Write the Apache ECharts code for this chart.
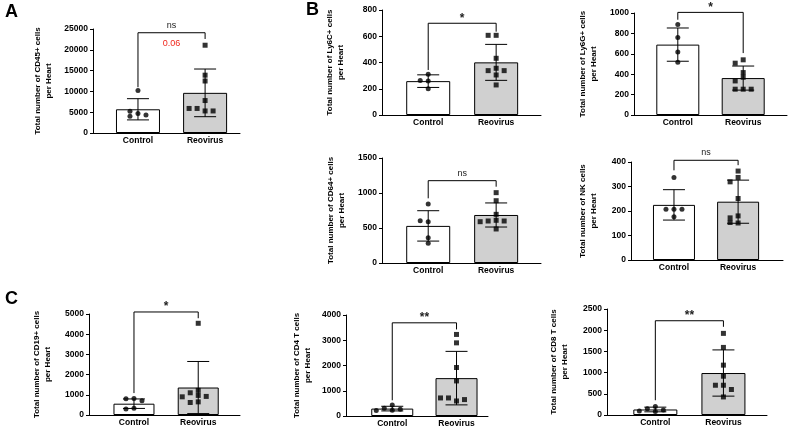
<!DOCTYPE html>
<html>
<head>
<meta charset="utf-8">
<script src="https://cdn.jsdelivr.net/npm/echarts@6/dist/echarts.min.js"></script>
<style>
html, body { margin: 0; padding: 0; background: #fff; }
#main { width: 788px; height: 429px; }
</style>
</head>
<body>
<div id="main"></div>
<script>
const categories = ['Control', 'Reovirus'];

// A - CD45+
const cd45Control = [10200, 4700, 4000, 4300, 5200];
const cd45Reovirus = [21100, 13900, 12500, 7800, 5300, 5900, 5300, 5900];
const cd45Mean = [5700, 9650];
const cd45Sd = [2550, 5730];
const cd45Bracket = [24100, 11000, 22600];

// B - Ly6C+
const ly6cControl = [310, 260, 262, 200];
const ly6cReovirus = [607, 607, 432, 356, 338, 338, 305, 229];
const ly6cMean = [258, 401];
const ly6cSd = [48, 137];
const ly6cBracket = [699, 343, 635];

// B - Ly6G+
const ly6gControl = [888, 760, 617, 518];
const ly6gReovirus = [541, 508, 416, 370, 334, 253, 253, 253];
const ly6gMean = [690, 362];
const ly6gSd = [163, 118];
const ly6gBracket = [1006, 934, 607];

// B - CD64+
const cd64Control = [843, 590, 604, 361, 281];
const cd64Reovirus = [1005, 890, 695, 610, 600, 600, 590, 486];
const cd64Mean = [530, 686];
const cd64Sd = [217, 172];
const cd64Bracket = [1176, 924, 1090];

// B - NK
const nkControl = [337, 207, 207, 207, 177];
const nkReovirus = [363, 337, 319, 251, 180, 172, 151, 153];
const nkMean = [225, 238];
const nkSd = [62, 88];
const nkBracket = [407, 366, 387];

// C - CD19+
const cd19Control = [820, 800, 700, 340, 300];
const cd19Reovirus = [4540, 1220, 1100, 970, 920, 900, 650, 620];
const cd19Mean = [560, 1360];
const cd19Sd = [235, 1290];
const cd19Bracket = [5100, 1085, 4790];

// C - CD4 T
const cd4Control = [440, 310, 270, 230, 215];
const cd4Reovirus = [3230, 2897, 1921, 1389, 595, 715, 650, 715];
const cd4Mean = [293, 1500];
const cd4Sd = [92, 1060];
const cd4Bracket = [3690, 623, 3428];

// C - CD8 T
const cd8Control = [200, 150, 120, 95, 85];
const cd8Reovirus = [1925, 1594, 1176, 915, 702, 702, 601, 426];
const cd8Mean = [130, 990];
const cd8Sd = [55, 545];
const cd8Bracket = [2223, 348, 2080];

const FONT = '"Liberation Sans", Arial, sans-serif';

const panels = [
  { grid: { left: 93, top: 29, width: 147, height: 104 }, x: [-0.67, 1.52], yMax: 25000, step: 5000, gap: 39, barW: 44,
    name: 'Total number of CD45+ cells\nper Heart', ctrl: cd45Control, reo: cd45Reovirus, mean: cd45Mean, sd: cd45Sd,
    bracket: cd45Bracket, sig: 'ns', note: { text: '0.06', y: 21600 } },
  { grid: { left: 382, top: 10, width: 159, height: 105 }, x: [-0.68, 1.66], yMax: 800, step: 200, gap: 36, barW: 44,
    name: 'Total number of Ly6C+ cells\nper Heart', ctrl: ly6cControl, reo: ly6cReovirus, mean: ly6cMean, sd: ly6cSd,
    bracket: ly6cBracket, sig: '*' },
  { grid: { left: 634, top: 13, width: 153, height: 102 }, x: [-0.67, 1.67], yMax: 1000, step: 200, gap: 35, barW: 43,
    name: 'Total number of Ly6G+ cells\nper Heart', ctrl: ly6gControl, reo: ly6gReovirus, mean: ly6gMean, sd: ly6gSd,
    bracket: ly6gBracket, sig: '*' },
  { grid: { left: 382, top: 158, width: 159, height: 105 }, x: [-0.68, 1.66], yMax: 1500, step: 500, gap: 35, barW: 44,
    name: 'Total number of CD64+ cells\nper Heart', ctrl: cd64Control, reo: cd64Reovirus, mean: cd64Mean, sd: cd64Sd,
    bracket: cd64Bracket, sig: 'ns' },
  { grid: { left: 631, top: 162, width: 152, height: 98 }, x: [-0.67, 1.70], yMax: 400, step: 100, gap: 32, barW: 42,
    name: 'Total number of NK cells\nper Heart', ctrl: nkControl, reo: nkReovirus, mean: nkMean, sd: nkSd,
    bracket: nkBracket, sig: 'ns' },
  { grid: { left: 89, top: 314, width: 151, height: 101 }, x: [-0.70, 1.65], yMax: 5000, step: 1000, gap: 36, barW: 41,
    name: 'Total number of CD19+ cells\nper Heart', ctrl: cd19Control, reo: cd19Reovirus, mean: cd19Mean, sd: cd19Sd,
    bracket: cd19Bracket, sig: '*' },
  { grid: { left: 346, top: 315, width: 142, height: 101 }, x: [-0.72, 1.49], yMax: 4000, step: 1000, gap: 33, barW: 42,
    name: 'Total number of CD4 T cells\nper Heart', ctrl: cd4Control, reo: cd4Reovirus, mean: cd4Mean, sd: cd4Sd,
    bracket: cd4Bracket, sig: '**' },
  { grid: { left: 607, top: 309, width: 160, height: 106 }, x: [-0.71, 1.64], yMax: 2500, step: 500, gap: 37, barW: 44,
    name: 'Total number of CD8 T cells\nper Heart', ctrl: cd8Control, reo: cd8Reovirus, mean: cd8Mean, sd: cd8Sd,
    bracket: cd8Bracket, sig: '**' }
];

// spread points sideways so they do not sit on top of each other (like Prism)
function swarm(vals, center, p) {
  const pxPerVal = p.grid.height / p.yMax;
  const pxPerX = p.grid.width / (p.x[1] - p.x[0]);
  const step = 8, tol = 4.5;
  const placed = [], out = [];
  vals.forEach(v => {
    const py = v * pxPerVal;
    for (const k of [0, -1, 1, -2, 2, -3, 3]) {
      const px = k * step;
      if (placed.every(q => Math.hypot(q[0] - px, q[1] - py) >= tol)) {
        placed.push([px, py]);
        out.push([center + px / pxPerX, v]);
        break;
      }
    }
  });
  return out;
}

const lineStyle = { stroke: '#000', lineWidth: 1 };

function errorBar(params, api) {
  const x = api.value(0), m = api.value(1), s = api.value(2);
  const top = api.coord([x, m + s]);
  const bot = api.coord([x, Math.max(0, m - s)]);
  const cap = 11;
  return {
    type: 'group',
    children: [
      { type: 'line', shape: { x1: top[0], y1: top[1], x2: bot[0], y2: bot[1] }, style: lineStyle },
      { type: 'line', shape: { x1: top[0] - cap, y1: top[1], x2: top[0] + cap, y2: top[1] }, style: lineStyle },
      { type: 'line', shape: { x1: bot[0] - cap, y1: bot[1], x2: bot[0] + cap, y2: bot[1] }, style: lineStyle }
    ]
  };
}

function bracketRenderer(p) {
  return function (params, api) {
    const y = api.value(0), l = api.value(1), r = api.value(2);
    const a = api.coord([0, l]), b = api.coord([0, y]), c = api.coord([1, y]), d = api.coord([1, r]);
    const star = p.sig !== 'ns';
    const children = [
      { type: 'polyline', shape: { points: [a, b, c, d] }, style: { stroke: '#000', lineWidth: 1, fill: null } },
      { type: 'text', x: (b[0] + c[0]) / 2, y: b[1] - (star ? -1 : 3),
        style: { text: p.sig, textAlign: 'center', textVerticalAlign: 'bottom',
                 font: star ? 'bold 12px ' + FONT : '9px ' + FONT, fill: '#222' } }
    ];
    if (p.note) {
      const n = api.coord([0.5, p.note.y]);
      children.push({ type: 'text', x: n[0], y: n[1],
        style: { text: p.note.text, textAlign: 'center', textVerticalAlign: 'middle', font: '9px ' + FONT, fill: '#f0261b' } });
    }
    return { type: 'group', children };
  };
}

const labelFont = { color: '#000', fontWeight: 'bold', fontSize: 8.5, fontFamily: FONT };

const option = {
  animation: false,
  backgroundColor: '#fff',
  grid: panels.map(p => Object.assign({ outerBoundsMode: 'none' }, p.grid)),
  xAxis: panels.map((p, i) => ({
    type: 'value', gridIndex: i, min: p.x[0], max: p.x[1],
    splitLine: { show: false },
    axisLine: { show: true, onZero: false, lineStyle: { color: '#000', width: 1 } },
    axisTick: { show: false },
    axisLabel: Object.assign({ customValues: [0, 1], formatter: v => categories[Math.round(v)], margin: 3 }, labelFont)
  })),
  yAxis: panels.map((p, i) => ({
    type: 'value', gridIndex: i, min: 0, max: p.yMax, interval: p.step,
    splitLine: { show: false },
    axisLine: { show: true, onZero: false, lineStyle: { color: '#000', width: 1 } },
    axisTick: { show: true, length: 3, lineStyle: { color: '#000' } },
    axisLabel: Object.assign({ formatter: v => String(v), margin: 5 }, labelFont),
    name: p.name, nameLocation: 'middle', nameRotate: 90, nameGap: p.gap,
    nameTextStyle: { color: '#000', fontWeight: 'bold', fontSize: 8, lineHeight: 11, fontFamily: FONT }
  })),
  graphic: [
    { type: 'text', left: 5, top: 3, style: { text: 'A', font: 'bold 18px ' + FONT, fill: '#000' } },
    { type: 'text', left: 306, top: 1, style: { text: 'B', font: 'bold 18px ' + FONT, fill: '#000' } },
    { type: 'text', left: 5, top: 290, style: { text: 'C', font: 'bold 18px ' + FONT, fill: '#000' } }
  ],
  series: panels.flatMap((p, i) => [
    {
      type: 'bar', xAxisIndex: i, yAxisIndex: i, barWidth: p.barW, z: 1,
      itemStyle: { borderColor: '#000', borderWidth: 1 },
      data: [
        { value: [0, p.mean[0]], itemStyle: { color: '#ffffff' } },
        { value: [1, p.mean[1]], itemStyle: { color: '#d0d0d0' } }
      ]
    },
    {
      type: 'custom', xAxisIndex: i, yAxisIndex: i, z: 3, silent: true,
      renderItem: errorBar,
      data: [[0, p.mean[0], p.sd[0]], [1, p.mean[1], p.sd[1]]]
    },
    {
      type: 'scatter', xAxisIndex: i, yAxisIndex: i, z: 4, symbol: 'circle', symbolSize: 5,
      itemStyle: { color: '#000' }, data: swarm(p.ctrl, 0, p)
    },
    {
      type: 'scatter', xAxisIndex: i, yAxisIndex: i, z: 4, symbol: 'rect', symbolSize: 5,
      itemStyle: { color: '#000' }, data: swarm(p.reo, 1, p)
    },
    {
      type: 'custom', xAxisIndex: i, yAxisIndex: i, z: 2, silent: true,
      renderItem: bracketRenderer(p),
      data: [p.bracket]
    }
  ])
};

const chart = echarts.init(document.getElementById('main'), null, { renderer: 'canvas' });
chart.setOption(option);
</script>
</body>
</html>
